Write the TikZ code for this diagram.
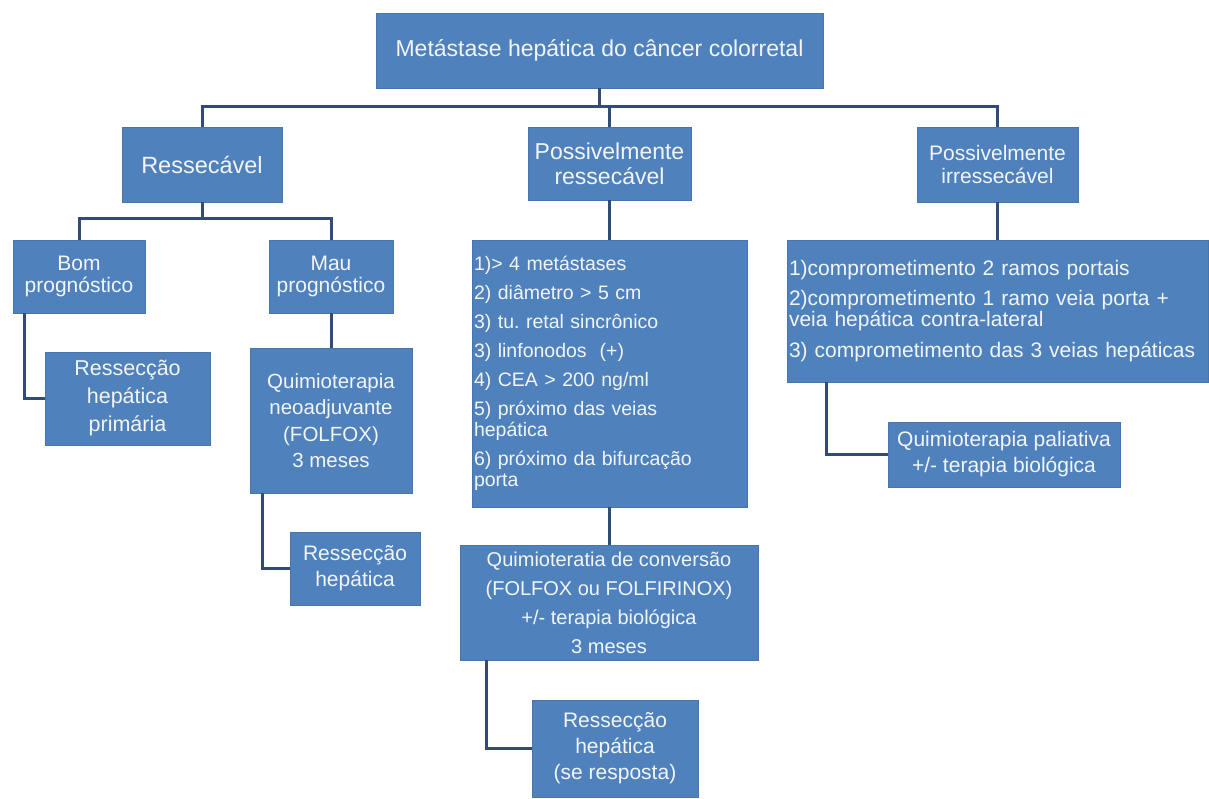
\documentclass[tikz,border=0pt]{standalone}
\usepackage{fontspec}
\setmainfont{Liberation Sans}
\frenchspacing
\definecolor{boxblue}{HTML}{4F81BD}
\definecolor{boxedge}{HTML}{4776AE}
\definecolor{linkblue}{HTML}{314C76}
\definecolor{boxtext}{HTML}{F2F5FA}
\begin{document}
\begin{tikzpicture}[x=1pt,y=-1pt]
		\tikzset{caixa/.style={rectangle, fill=boxblue, draw=boxedge, line width=0.8pt, text=boxtext, align=center, inner sep=2pt},
		         lista/.style={caixa, align=left},
		         liga/.style={draw=linkblue, line width=3pt}}
        \useasboundingbox (0,0) rectangle (1209,798);

        \node[caixa, minimum width=447pt, minimum height=75pt, font=\fontsize{23}{26}\selectfont] at (599.5, 50.5) (topo) {Metástase hepática do câncer colorretal};

        \node[caixa, minimum width=160pt, minimum height=75pt, font=\fontsize{23.5}{26}\selectfont] at (202, 164.5) (ress) {Ressecável};
        \node[caixa, minimum width=163pt, minimum height=73pt, font=\fontsize{23}{25}\selectfont] at (609.5, 163.5) (pres) {Possivelmente\\ressecável};
        \node[caixa, minimum width=161pt, minimum height=75pt, font=\fontsize{21}{23}\selectfont] at (997.5, 164.5) (irr) {Possivelmente\\irressecável};

        \node[caixa, minimum width=132pt, minimum height=73pt, font=\fontsize{21}{22}\selectfont] at (79, 276.5) (bom) {Bom\\prognóstico};
        \node[caixa, minimum width=124pt, minimum height=73pt, font=\fontsize{21}{22}\selectfont] at (331, 276.5) (mau) {Mau\\prognóstico};
        \node[caixa, minimum width=165pt, minimum height=93pt, font=\fontsize{21.5}{28}\selectfont] at (127.5, 398.5) (rhp) {Ressecção\\hepática\\primária};
        \node[caixa, minimum width=162pt, minimum height=145pt, font=\fontsize{20.5}{26.5}\selectfont] at (331, 420.5) (qneo) {Quimioterapia\\neoadjuvante\\(FOLFOX)\\3 meses};
        \node[caixa, minimum width=130pt, minimum height=73pt, font=\fontsize{21}{26}\selectfont] at (355, 568.5) (rh) {Ressecção\\hepática};

        \node[lista, text width=271pt, minimum height=267pt, font=\fontsize{19.5}{21}\selectfont] at (609.5, 373.5) (crit) {1)> 4 metástases\\[8pt]
          2) diâmetro > 5 cm\\[8pt]
          3) tu. retal sincrônico\\[8pt]
          3) linfonodos~~(+)\\[8pt]
          4) CEA > 200 ng/ml\\[8pt]
          5) próximo das veias\\hepática\\[8pt]
          6) próximo da bifurcação\\porta};
        \node[caixa, minimum width=298pt, minimum height=115pt, font=\fontsize{20}{29}\selectfont] at (609, 602.5) (qconv) {Quimioteratia de conversão\\(FOLFOX ou FOLFIRINOX)\\+/- terapia biológica\\3 meses};
        \node[caixa, minimum width=166pt, minimum height=97pt, font=\fontsize{21}{26}\selectfont] at (615, 748.5) (rsr) {Ressecção\\hepática\\(se resposta)};

        \node[lista, text width=417pt, minimum height=142pt, font=\fontsize{21}{19}\selectfont] at (997.5, 311) (comp) {1)comprometimento 2 ramos portais\\[10pt]
          2)comprometimento 1 ramo veia porta +\\veia hepática contra-lateral\\[10pt]
          3) comprometimento das 3 veias hepáticas};
        \node[caixa, minimum width=232pt, minimum height=65pt, font=\fontsize{21}{26}\selectfont] at (1004, 454.5) (qpal) {Quimioterapia paliativa\\+/- terapia biológica};

        \coordinate (barra) at (0, 106);
        \coordinate (barra2) at (0, 218);
			\draw[liga] (topo.south) -- (topo.south |- barra);
			\draw[liga] (ress.north) -- (ress.north |- barra) -- (irr.north |- barra) -- (irr.north);
			\draw[liga] (pres.north) -- (pres.north |- barra);

			\draw[liga] (ress.south) -- (ress.south |- barra2);
			\draw[liga] (bom.north) -- (bom.north |- barra2) -- (mau.north |- barra2) -- (mau.north);
			\draw[liga] ([xshift=12pt]bom.south west) |- (rhp.west);
			\draw[liga] (mau.south) -- (qneo.north);
			\draw[liga] ([xshift=13pt]qneo.south west) |- (rh.west);

			\draw[liga] (pres.south) -- (crit.north);
			\draw[liga] (crit.south) -- (crit.south |- qconv.north);
			\draw[liga] ([xshift=27pt]qconv.south west) |- (rsr.west);

			\draw[liga] (irr.south) -- (irr.south |- comp.north);
			\draw[liga] ([xshift=40pt]comp.south west) |- (qpal.west);
\end{tikzpicture}
\end{document}
